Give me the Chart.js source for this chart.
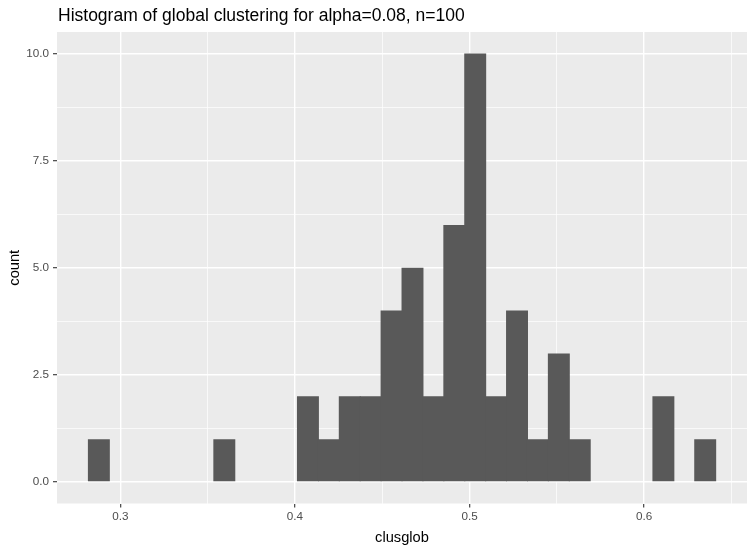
<!DOCTYPE html>
<html>
<head>
<meta charset="utf-8">
<script src="https://cdn.jsdelivr.net/npm/chart.js@4/dist/chart.umd.min.js"></script>
<style>
  html, body { margin: 0; padding: 0; background: #ffffff; }
  #wrap { width: 754px; height: 550px; position: relative; }
</style>
</head>
<body>
<div id="wrap"><canvas id="c" width="754" height="550"></canvas></div>
<script>
// ---- data ----
const titleText = "Histogram of global clustering for alpha=0.08, n=100";
const xTitle = "clusglob";
const yTitle = "count";
const binCenters = [0.28768, 0.29966, 0.31163, 0.32361, 0.33558, 0.34756, 0.35953, 0.37151, 0.38348, 0.39546,
                    0.40743, 0.41941, 0.43138, 0.44336, 0.45533, 0.46731, 0.47928, 0.49126, 0.50323, 0.51521,
                    0.52718, 0.53916, 0.55113, 0.56311, 0.57508, 0.58706, 0.59903, 0.61101, 0.62298, 0.63496];
const counts = [1, 0, 0, 0, 0, 0, 1, 0, 0, 0,
                2, 1, 2, 2, 4, 5, 2, 6, 10, 2,
                4, 1, 3, 1, 0, 0, 0, 2, 0, 1];
const xMajorTicks = [0.3, 0.4, 0.5, 0.6];
const xMinorTicks = [0.35, 0.45, 0.55, 0.65];
const yMajorTicks = [0, 2.5, 5, 7.5, 10];
const yMinorTicks = [1.25, 3.75, 6.25, 8.75];

const points = binCenters.map((x, i) => ({ x: x, y: counts[i] }));

function isMajor(list, v) { return list.some(t => Math.abs(t - v) < 1e-9); }
function tickVal(c) { return c && c.tick ? c.tick.value : NaN; }

const FONT = '"Liberation Sans", Arial, sans-serif';

const panelBg = {
  id: 'panelBg',
  beforeDraw(chart) {
    const { ctx, chartArea: a } = chart;
    ctx.save();
    ctx.fillStyle = '#EBEBEB';
    ctx.fillRect(a.left, a.top, a.right - a.left, a.bottom - a.top);
    ctx.restore();
  },
  afterDraw(chart) {
    const { ctx, chartArea: a } = chart;
    ctx.save();
    ctx.fillStyle = '#000000';
    ctx.font = '17.5px ' + FONT;
    ctx.textAlign = 'left';
    ctx.textBaseline = 'alphabetic';
    ctx.fillText(titleText, a.left + 1, 21);
    ctx.restore();
  }
};

const tickFont = { family: FONT, size: 11.7 };
const titleFont = { family: FONT, size: 14.67 };

new Chart(document.getElementById('c'), {
  type: 'bar',
  data: {
    datasets: [{
      data: points,
      backgroundColor: c => (c.raw && c.raw.y === 0) ? 'rgba(0,0,0,0)' : '#595959',
      borderWidth: 0,
      barPercentage: 1.05,
      categoryPercentage: 1.0
    }]
  },
  options: {
    responsive: false,
    animation: false,
    events: [],
    layout: { padding: { top: 32, right: 7, bottom: 0, left: 0 } },
    plugins: {
      legend: { display: false },
      tooltip: { enabled: false },
      title: { display: false }
    },
    scales: {
      x: {
        type: 'linear',
        offset: false,
        min: 0.2637,
        max: 0.6589,
        afterBuildTicks(scale) {
          scale.ticks = xMajorTicks.concat(xMinorTicks).sort((a, b) => a - b).map(v => ({ value: v }));
        },
        afterFit(scale) { scale.height = 46.5; },
        border: { display: false },
        grid: {
          offset: false,
          color: '#FFFFFF',
          lineWidth: c => isMajor(xMajorTicks, tickVal(c)) ? 1.4 : 0.7,
          drawTicks: true,
          tickLength: 4,
          tickColor: c => isMajor(xMajorTicks, tickVal(c)) ? '#333333' : 'rgba(0,0,0,0)',
          tickWidth: 1.1
        },
        ticks: {
          autoSkip: false,
          maxRotation: 0,
          padding: 2,
          color: '#4D4D4D',
          font: tickFont,
          callback: v => isMajor(xMajorTicks, v) ? v.toFixed(1) : ''
        },
        title: {
          display: true,
          text: xTitle,
          color: '#000000',
          font: titleFont,
          padding: { top: 0, bottom: 3 }
        }
      },
      y: {
        type: 'linear',
        min: -0.5,
        max: 10.5,
        afterBuildTicks(scale) {
          scale.ticks = yMajorTicks.concat(yMinorTicks).sort((a, b) => a - b).map(v => ({ value: v }));
        },
        afterFit(scale) { scale.width = 57; },
        border: { display: false },
        grid: {
          color: '#FFFFFF',
          lineWidth: c => isMajor(yMajorTicks, tickVal(c)) ? 1.4 : 0.7,
          drawTicks: true,
          tickLength: 4,
          tickColor: c => isMajor(yMajorTicks, tickVal(c)) ? '#333333' : 'rgba(0,0,0,0)',
          tickWidth: 1.1
        },
        ticks: {
          autoSkip: false,
          padding: 4,
          color: '#4D4D4D',
          font: tickFont,
          callback: v => isMajor(yMajorTicks, v) ? v.toFixed(1) : ''
        },
        title: {
          display: true,
          text: yTitle,
          color: '#000000',
          font: titleFont,
          padding: { top: 6, bottom: 0 }
        }
      }
    }
  },
  plugins: [panelBg]
});
</script>
</body>
</html>
